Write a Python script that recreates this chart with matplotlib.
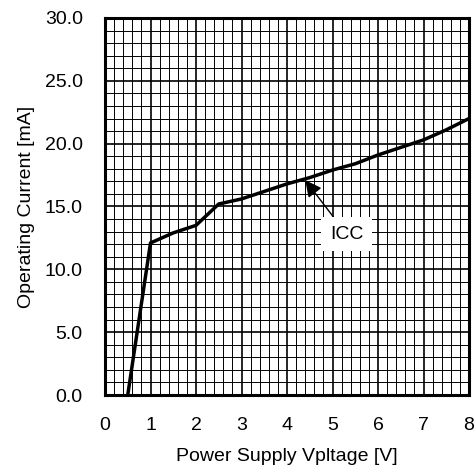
import matplotlib
matplotlib.use("Agg")
import matplotlib.pyplot as plt
import numpy as np

plt.rcParams['font.family'] = ['Liberation Sans', 'DejaVu Sans']

# supply voltage [V] vs operating current [mA]
vcc = [0.5, 1.0, 1.5, 2.0, 2.5, 3.0, 3.5, 4.0, 4.5, 5.0, 5.5, 6.0, 6.5, 7.0, 7.5, 8.0]
icc = [0.0, 12.1, 12.9, 13.5, 15.2, 15.6, 16.2, 16.8, 17.3, 17.9, 18.4, 19.1, 19.7, 20.3, 21.1, 22.0]

x_ticks = [0, 1, 2, 3, 4, 5, 6, 7, 8]
y_ticks = [0, 5, 10, 15, 20, 25, 30]

fig = plt.figure(figsize=(4.76, 4.73), dpi=100)
ax = fig.add_axes([105/476, 78/473, 364/476, 377/473])

ax.set_xlim(0, 8)
ax.set_ylim(0, 30)
ax.set_xticks(x_ticks)
ax.set_yticks(y_ticks)
ax.set_yticklabels(['%.1f' % v for v in y_ticks])
ax.set_xticks(np.arange(0, 8.01, 0.2), minor=True)
ax.set_yticks(np.arange(0, 30.01, 1), minor=True)
ax.tick_params(which='both', length=0, labelsize=14, pad=16)

ax.grid(which='minor', color='black', linewidth=0.7)
ax.grid(which='major', color='black', linewidth=1.2)
ax.set_axisbelow(True)
for s in ax.spines.values():
    s.set_linewidth(2.2)

ax.plot(vcc, icc, color='black', linewidth=2.5, zorder=3)

ax.annotate('ICC', xy=(4.4, 17.1), xytext=(5.31, 12.8),
            fontsize=14, ha='center', va='center',
            bbox=dict(boxstyle='square,pad=0.45', fc='white', ec='none'),
            arrowprops=dict(arrowstyle='-|>,head_length=1.0,head_width=0.5',
                            color='black', lw=1.0,
                            mutation_scale=10, shrinkA=0, shrinkB=0),
            zorder=4)

ax.set_xlabel('Power Supply Vpltage [V]', fontsize=14, labelpad=10)
ax.set_ylabel('Operating Current [mA]', fontsize=14, labelpad=7)

fig.savefig('out.png', dpi=100)
